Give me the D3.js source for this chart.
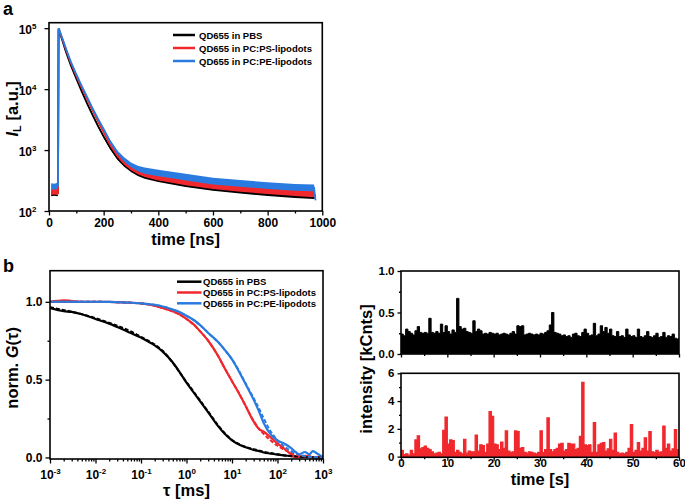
<!DOCTYPE html>
<html><head><meta charset="utf-8">
<script src="https://cdn.jsdelivr.net/npm/d3@7"></script>
<style>
body{margin:0;background:#fff;}
svg text{font-family:"Liberation Sans",Arial,sans-serif;font-weight:bold;fill:#000;}
</style></head><body>
<svg id="c" width="685" height="500"></svg>
<script>
// ---------- Panel a: luminescence decay ----------
const seriesNames = ["QD655 in PBS", "QD655 in PC:PS-lipodots", "QD655 in PC:PE-lipodots"];
const colors = ["#000000", "#f0282d", "#2a7be0"];
const tA = [8,20,30,33,35,37,40,45,50,60,70,80,100,120,140,160,180,200,225,250,275,300,325,350,400,450,500,600,700,800,900,970,975];
const decayPBS = [195,200,195,200,91000,91000,83000,70800,60300,43600,32400,24500,14800,9100,5750,3700,2450,1660,1070,740,575,480,415,380,340,310,280,245,220,200,185,178,175];
const decayPS  = [205,210,205,200,95000,95000,86000,74000,64000,47500,35500,27000,16500,10500,6800,4400,2900,1950,1200,820,620,510,445,405,360,330,300,260,235,215,200,190,170];
const decayPE  = [255,250,260,260,97000,97000,88000,76000,66000,49000,37000,28000,17500,11200,7300,4800,3200,2200,1350,920,700,570,500,460,420,390,360,310,285,260,245,240,150];
const noiseA   = [0.05,0.05,0.05,0.05,0.01,0.01,0.01,0.01,0.01,0.01,0.01,0.01,0.01,0.012,0.015,0.018,0.02,0.022,0.025,0.03,0.035,0.04,0.045,0.05,0.055,0.055,0.055,0.055,0.055,0.055,0.055,0.055,0.02];
const xTicksA = [0,200,400,600,800,1000];
const yTicksA = [2,3,4,5];

// ---------- Panel b: FCS ----------
const tauB = [0.001,0.002,0.003,0.005,0.01,0.02,0.05,0.1,0.2,0.3,0.5,0.7,1,1.5,2,3,5,7,10,15,20,30,40,50,70,100,150,200,250,300,400,500,600,700,1000];
const gPBS = [0.96,0.94,0.935,0.92,0.89,0.86,0.81,0.77,0.72,0.68,0.61,0.55,0.48,0.41,0.36,0.29,0.20,0.15,0.11,0.08,0.065,0.048,0.04,0.032,0.025,0.018,0.012,0.008,0.006,0.004,0.003,0.003,0.002,0.001,0.0];
const gPS  = [1.0,1.01,1.005,1.0,1.0,1.0,0.995,0.99,0.975,0.96,0.94,0.92,0.89,0.85,0.81,0.75,0.65,0.57,0.49,0.40,0.33,0.23,0.18,0.165,0.13,0.09,0.05,0.02,0.0,0.005,0.01,0.008,0.0,0.002,0.005];
const gPE  = [1.0,1.0,1.0,1.0,1.0,1.0,0.995,0.99,0.98,0.97,0.95,0.935,0.91,0.88,0.85,0.80,0.74,0.69,0.63,0.54,0.47,0.37,0.29,0.22,0.15,0.11,0.085,0.06,0.035,0.02,0.035,0.02,0.04,0.03,0.0];
// dashed fit curves
const tauFit = [0.001,0.01,0.1,0.3,1,2,3,5,7,10,15,20,30,40,50,70,100,150,200,300,500,1000];
const fitPBS = [0.965,0.895,0.775,0.685,0.485,0.365,0.295,0.205,0.155,0.112,0.082,0.068,0.053,0.044,0.037,0.028,0.02,0.013,0.009,0.005,0.002,0.0];
const fitPS  = [1.0,1.0,0.99,0.96,0.89,0.81,0.75,0.65,0.57,0.49,0.40,0.33,0.235,0.18,0.15,0.11,0.075,0.045,0.028,0.012,0.004,0.0];
const fitPE  = [1.0,1.0,0.99,0.97,0.91,0.85,0.80,0.74,0.69,0.63,0.545,0.475,0.38,0.31,0.25,0.17,0.11,0.065,0.04,0.017,0.005,0.0];
const xTicksB = [-3,-2,-1,0,1,2,3];
const yTicksB = [0,0.5,1.0];

// ---------- Panel c: intensity traces (0.5 s bins) ----------
const traceT = d3.range(0, 60.01, 0.5);
const tracePBS = [0.24,0.22,0.30,0.27,0.25,0.23,0.28,0.33,0.26,0.25,0.26,0.25,0.43,0.26,0.25,0.27,0.25,0.36,0.26,0.34,0.27,0.24,0.29,0.26,0.67,0.33,0.30,0.31,0.27,0.26,0.25,0.40,0.27,0.30,0.28,0.24,0.25,0.24,0.26,0.25,0.24,0.25,0.23,0.24,0.25,0.24,0.23,0.25,0.27,0.24,0.34,0.33,0.34,0.23,0.24,0.25,0.24,0.23,0.24,0.23,0.25,0.24,0.26,0.28,0.35,0.50,0.26,0.25,0.24,0.22,0.23,0.21,0.22,0.20,0.24,0.25,0.22,0.21,0.26,0.30,0.25,0.22,0.23,0.37,0.22,0.24,0.34,0.27,0.32,0.25,0.30,0.22,0.21,0.27,0.21,0.22,0.20,0.30,0.23,0.21,0.22,0.20,0.30,0.21,0.20,0.22,0.27,0.21,0.20,0.22,0.25,0.20,0.21,0.26,0.20,0.22,0.21,0.24,0.19,0.18,0.19];
const tracePS = [0.45,0.15,0.2,0.1,0.45,0.2,1.2,1.5,0.55,0.65,0.75,0.6,0.5,0.35,0.2,0.25,0.3,0.2,1.9,2.85,0.9,1.2,1.15,0.3,0.45,0.3,0.2,1.25,0.25,0.4,0.35,0.35,1.55,0.4,0.85,0.8,0.3,0.9,3.25,2.9,0.9,0.85,0.5,1.05,0.6,1.85,0.4,0.3,0.35,1.85,1.8,0.6,0.65,0.3,0.25,0.35,0.3,0.25,0.2,0.3,1.85,0.3,0.5,2.8,0.5,0.35,0.5,0.6,0.9,0.95,0.4,0.5,0.95,0.9,0.9,0.5,0.6,1.45,5.35,0.85,0.8,0.85,0.3,2.45,0.3,0.85,0.95,1.0,0.4,0.55,1.25,0.45,1.7,0.3,0.2,0.25,0.2,0.3,0.6,2.3,0.3,0.45,1.0,0.4,0.6,1.35,0.4,1.8,0.35,0.3,0.45,0.3,0.35,2.2,0.6,0.9,0.4,0.55,1.95,0.5,0.3];
const xTicksC = [0,10,20,30,40,50,60];

const svg = d3.select("#c");
const FONT = 12, TITLE = 16.5;

function frame(x0,x1,y0,y1){
  svg.append("rect").attr("x",x0).attr("y",y1).attr("width",x1-x0).attr("height",y0-y1)
    .attr("fill","none").attr("stroke","#000").attr("stroke-width",1.6);
}
function styleAxis(g, fs){
  g.select(".domain").remove();
  g.selectAll("line").attr("stroke","#000").attr("stroke-width",1.3);
  g.selectAll("text").attr("font-size",fs||FONT).attr("font-family","Liberation Sans, Arial, sans-serif").attr("font-weight","bold");
  return g;
}
function sup(sel, base, exp){
  sel.text(null);
  sel.append("tspan").text(base);
  sel.append("tspan").attr("dy",-5).attr("font-size",8).text(exp);
}
function clip(id,x0,x1,y0,y1){
  svg.append("clipPath").attr("id",id).append("rect").attr("x",x0).attr("y",y1).attr("width",x1-x0).attr("height",y0-y1);
}

// ===== Panel a =====
{
  const L=49,R=322.3,B=211,T=22.7;
  const x = d3.scaleLinear().domain([0,1000]).range([L,R]);
  const y = d3.scaleLog().domain([100,123000]).range([B,T]);
  clip("ca",L,R,B,T);
  const g = svg.append("g").attr("clip-path","url(#ca)");
  const sets=[decayPBS,decayPS,decayPE];
  sets.forEach((d,i)=>{
    const area = d3.area().x((v,j)=>x(tA[j])).y0((v,j)=>y(v*Math.pow(10,-noiseA[j]))).y1((v,j)=>y(v*Math.pow(10,noiseA[j])));
    g.append("path").attr("d",area(d)).attr("fill",colors[i]);
    const line = d3.line().x((v,j)=>x(tA[j])).y(v=>y(v));
    g.append("path").attr("d",line(d)).attr("fill","none").attr("stroke",colors[i]).attr("stroke-width",1.8);
  });
  styleAxis(svg.append("g").attr("transform",`translate(0,${B})`).call(d3.axisBottom(x).tickValues(d3.range(100,1000,200)).tickSize(2.5).tickFormat("")));
  styleAxis(svg.append("g").attr("transform",`translate(0,${B})`).call(d3.axisBottom(x).tickValues(xTicksA).tickSize(4.5).tickPadding(3).tickFormat(d3.format("d"))));
  const gy = styleAxis(svg.append("g").attr("transform",`translate(${L},0)`).call(d3.axisLeft(y).tickValues(yTicksA.map(e=>Math.pow(10,e))).tickSize(4.5).tickPadding(3)));
  gy.selectAll(".tick text").each(function(d){ sup(d3.select(this),"10",String(Math.round(Math.log10(d)))); }).attr("dy","0.45em").attr("dx",-5);
  frame(L,R,B,T);
  seriesNames.forEach((n,i)=>{
    const yy = 35 + i*13;
    svg.append("line").attr("x1",173).attr("x2",195).attr("y1",yy).attr("y2",yy).attr("stroke",colors[i]).attr("stroke-width",2.5);
    svg.append("text").attr("x",199).attr("y",yy+3.5).attr("font-size",9.5).text(n);
  });
  svg.append("text").attr("x",(L+R)/2).attr("y",245).attr("text-anchor","middle").attr("font-size",TITLE).text("time [ns]");
  const yl = svg.append("text").attr("transform",`translate(18,${(B+T)/2-8}) rotate(-90)`).attr("text-anchor","middle").attr("font-size",TITLE);
  yl.append("tspan").attr("font-style","italic").text("I");
  yl.append("tspan").attr("font-size",11).attr("dy",3).text("L");
  yl.append("tspan").attr("dy",-3).text(" [a.u.]");
  svg.append("text").attr("x",3).attr("y",15).attr("font-size",18).text("a");
}

// ===== Panel b =====
{
  const L=50,R=323,B=459,T=270.7;
  const x = d3.scaleLog().domain([1e-3,1e3]).range([L,R]);
  const y = d3.scaleLinear().domain([-0.01,1.2]).range([B,T]);
  clip("cb",L,R,B,T);
  const g = svg.append("g").attr("clip-path","url(#cb)");
  [gPBS,gPS,gPE].forEach((d,i)=>{
    const line = d3.line().x((v,j)=>x(tauB[j])).y(v=>y(v)).curve(d3.curveMonotoneX);
    g.append("path").attr("d",line(d)).attr("fill","none").attr("stroke",colors[i]).attr("stroke-width",2.2);
  });
  [fitPBS,fitPS,fitPE].forEach((d,i)=>{
    const line = d3.line().x((v,j)=>x(tauFit[j])).y(v=>y(v)).curve(d3.curveMonotoneX);
    g.append("path").attr("d",line(d)).attr("fill","none").attr("stroke",colors[i]).attr("stroke-width",2).attr("stroke-dasharray","4,2");
  });
  const minors=[];
  for(let e=-3;e<3;e++) for(let k=2;k<10;k++) minors.push(k*Math.pow(10,e));
  styleAxis(svg.append("g").attr("transform",`translate(0,${B})`).call(d3.axisBottom(x).tickValues(minors).tickSize(2.5).tickFormat("")));
  const gx = styleAxis(svg.append("g").attr("transform",`translate(0,${B})`).call(d3.axisBottom(x).tickValues(xTicksB.map(e=>Math.pow(10,e))).tickSize(4.5).tickPadding(3)));
  gx.selectAll(".tick text").each(function(d){ sup(d3.select(this),"10",String(Math.round(Math.log10(d)))); }).attr("dy","1.05em");
  styleAxis(svg.append("g").attr("transform",`translate(${L},0)`).call(d3.axisLeft(y).tickValues([0.25,0.75]).tickSize(2.5).tickFormat("")));
  styleAxis(svg.append("g").attr("transform",`translate(${L},0)`).call(d3.axisLeft(y).tickValues(yTicksB).tickSize(4.5).tickPadding(3).tickFormat(d3.format(".1f"))));
  frame(L,R,B,T);
  seriesNames.forEach((n,i)=>{
    const yy = 281.7 + i*10.8;
    svg.append("line").attr("x1",177).attr("x2",201.5).attr("y1",yy).attr("y2",yy).attr("stroke",colors[i]).attr("stroke-width",2.5);
    svg.append("text").attr("x",203).attr("y",yy+3.5).attr("font-size",9.5).text(n);
  });
  svg.append("text").attr("x",(L+R)/2).attr("y",496).attr("text-anchor","middle").attr("font-size",TITLE).text("τ [ms]");
  const yl = svg.append("text").attr("transform",`translate(18,${(B+T)/2+3}) rotate(-90)`).attr("text-anchor","middle").attr("font-size",TITLE);
  yl.append("tspan").text("norm. ");
  yl.append("tspan").attr("font-style","italic").text("G");
  yl.append("tspan").text("(τ)");
  svg.append("text").attr("x",3).attr("y",272).attr("font-size",18).text("b");
}

// ===== Panel c =====
{
  const L=401,R=679, FS=11.5;
  const x = d3.scaleLinear().domain([0,60]).range([L,R]);
  {
    const B=354,T=271;
    const y = d3.scaleLinear().domain([0,1]).range([B,T]);
    clip("cc1",L,R,B,T);
    const area = d3.area().x((v,j)=>x(traceT[j])).y0(y(0.005)).y1(v=>y(v)).curve(d3.curveStepAfter);
    svg.append("g").attr("clip-path","url(#cc1)").append("path").attr("d",area(tracePBS)).attr("fill",colors[0]).attr("stroke",colors[0]).attr("stroke-width",1);
    styleAxis(svg.append("g").attr("transform",`translate(0,${B})`).call(d3.axisBottom(x).tickValues(d3.range(5,60,10)).tickSize(2).tickFormat("")));
    styleAxis(svg.append("g").attr("transform",`translate(0,${B})`).call(d3.axisBottom(x).tickValues(xTicksC).tickSize(3.5).tickFormat("")));
    styleAxis(svg.append("g").attr("transform",`translate(${L},0)`).call(d3.axisLeft(y).tickValues([0.25,0.75]).tickSize(2).tickFormat("")));
    styleAxis(svg.append("g").attr("transform",`translate(${L},0)`).call(d3.axisLeft(y).tickValues([0,0.5,1]).tickSize(3.5).tickPadding(3).tickFormat(d3.format(".1f"))), FS);
    frame(L,R,B,T);
  }
  {
    const B=457.3,T=373.3;
    const y = d3.scaleLinear().domain([-0.05,6]).range([B,T]);
    clip("cc2",L,R,B,T);
    const area = d3.area().x((v,j)=>x(traceT[j])).y0(y(0)).y1(v=>y(v)).curve(d3.curveStepAfter);
    svg.append("g").attr("clip-path","url(#cc2)").append("path").attr("d",area(tracePS)).attr("fill",colors[1]).attr("stroke",colors[1]).attr("stroke-width",1.2);
    styleAxis(svg.append("g").attr("transform",`translate(0,${B})`).call(d3.axisBottom(x).tickValues(d3.range(5,60,10)).tickSize(2).tickFormat("")));
    styleAxis(svg.append("g").attr("transform",`translate(0,${B})`).call(d3.axisBottom(x).tickValues(xTicksC).tickSize(3.5).tickPadding(-1.5).tickFormat(d3.format("d"))), FS);
    styleAxis(svg.append("g").attr("transform",`translate(${L},0)`).call(d3.axisLeft(y).tickValues([1,3,5]).tickSize(2).tickFormat("")));
    styleAxis(svg.append("g").attr("transform",`translate(${L},0)`).call(d3.axisLeft(y).tickValues([0,2,4,6]).tickSize(3.5).tickPadding(3).tickFormat(d3.format("d"))), FS);
    frame(L,R,B,T);
  }
  svg.append("text").attr("x",(L+R)/2).attr("y",485).attr("text-anchor","middle").attr("font-size",TITLE).text("time [s]");
  svg.append("text").attr("transform",`translate(372,369) rotate(-90)`).attr("text-anchor","middle").attr("font-size",TITLE).text("intensity [kCnts]");
}
</script></body></html>
